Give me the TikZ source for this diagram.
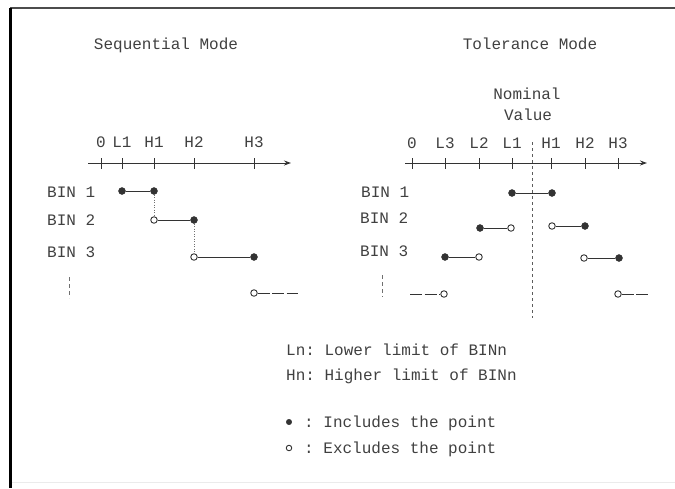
\documentclass[tikz,border=0pt]{standalone}
\usepackage{fontspec}
\setmonofont{Liberation Mono}
\usetikzlibrary{arrows.meta}
\definecolor{ink}{HTML}{333333}
\definecolor{txt}{HTML}{404040}
\begin{document}
\begin{tikzpicture}[x=1pt,y=-1pt,
  lbl/.style={font=\ttfamily\fontsize{16}{16}\selectfont, text=txt, inner sep=0pt, anchor=base},
  lblw/.style={lbl, anchor=base west},
  incl/.style={circle, fill=ink, draw=ink, inner sep=0pt, minimum size=7pt},
  excl/.style={circle, fill=white, draw=ink, line width=0.9pt, inner sep=0pt, minimum size=6.5pt},
  seg/.style={draw=ink, line width=1pt},
  tail/.style={draw=ink, line width=1pt, dash pattern=on 12pt off 2.5pt},
  axisline/.style={draw=ink, line width=1pt},
  dotline/.style={draw=ink!70, line width=0.8pt, dash pattern=on 1pt off 1.5pt},
  nomline/.style={draw=ink!80, line width=0.8pt, dash pattern=on 3pt off 3pt},
  vdots/.style={draw=ink!70, line width=0.8pt, dash pattern=on 4pt off 3pt}]
\useasboundingbox (0,0) rectangle (675,488);
% frame
\draw[black!8, line width=1pt] (10,482) -- (675,482);
\draw[black!70, line width=1.5pt] (10,8) -- (675,8);
\draw[black, line width=2.2pt] (10.5,7.5) -- (10.5,488);

% ---------------- Sequential mode ----------------
\node[lbl] (seqtitle) at (166,49) {Sequential Mode};
\coordinate (sax0) at (88,163);
\coordinate (sax1) at (291,163);
\draw[axisline, -{Stealth[length=7pt,width=5pt]}] (sax0) -- (sax1);
\foreach \x/\t in {101/0,122/L1,154/H1,194/H2,254/H3}{
  \draw[axisline] (\x,158) -- (\x,169);
  \node[lbl] (sl\t) at (\x,147) {\t};
}
\node[lblw] (sb1) at (47,197) {BIN 1};
\node[lblw] (sb2) at (47,225) {BIN 2};
\node[lblw] (sb3) at (47,257) {BIN 3};
\draw[vdots] (69,277) -- (69,298);

\node[incl] (s1a) at (122,191) {};
\node[incl] (s1b) at (154,191) {};
\node[excl] (s2a) at (154,220) {};
\node[incl] (s2b) at (194,220) {};
\node[excl] (s3a) at (194,257) {};
\node[incl] (s3b) at (254,257) {};
\node[excl] (s4a) at (254,293) {};
\coordinate (s4b) at (298,293);
\draw[seg] (s1a) -- (s1b);
\draw[seg] (s2a) -- (s2b);
\draw[seg] (s3a) -- (s3b);
\draw[tail] (s4a) -- (s4b);
\draw[dotline] (s1b) -- (s2a);
\draw[dotline] (s2b) -- (s3a);

% ---------------- Tolerance mode ----------------
\node[lbl] (toltitle) at (530,49) {Tolerance Mode};
\node[lbl] (nom) at (527,99) {Nominal};
\node[lbl] (val) at (528,120) {Value};
\coordinate (tax0) at (405,163);
\coordinate (tax1) at (647,163);
\draw[axisline, -{Stealth[length=7pt,width=5pt]}] (tax0) -- (tax1);
\foreach \x/\t in {412/0,445/L3,479/L2,512/L1,551/H1,585/H2,618/H3}{
  \draw[axisline] (\x,158) -- (\x,169);
  \node[lbl] (tl\t) at (\x,148) {\t};
}
\coordinate (nomtop) at (532,142);
\coordinate (nombot) at (532,318);
\draw[nomline] (nomtop) -- (nombot);

\node[lblw] (tb1) at (361,197) {BIN 1};
\node[lblw] (tb2) at (360,223) {BIN 2};
\node[lblw] (tb3) at (360,256) {BIN 3};
\draw[vdots] (382,275) -- (382,297);

\node[incl] (t1a) at (512,193) {};
\node[incl] (t1b) at (552,193) {};
\node[incl] (t2a) at (480,228) {};
\node[excl] (t2b) at (511,228) {};
\node[excl] (t2c) at (552,226) {};
\node[incl] (t2d) at (585,226) {};
\node[incl] (t3a) at (445,257) {};
\node[excl] (t3b) at (479,257) {};
\node[excl] (t3c) at (584,258) {};
\node[incl] (t3d) at (619,258) {};
\coordinate (t4a) at (410,294);
\node[excl] (t4b) at (444,294) {};
\node[excl] (t4c) at (618,294) {};
\coordinate (t4d) at (649,294);
\draw[seg] (t1a) -- (t1b);
\draw[seg] (t2a) -- (t2b);
\draw[seg] (t2c) -- (t2d);
\draw[seg] (t3a) -- (t3b);
\draw[seg] (t3c) -- (t3d);
\draw[tail] (t4a) -- (t4b);
\draw[tail] (t4c) -- (t4d);

% ---------------- Legend ----------------
\node[lblw] (lgL) at (286,355) {Ln: Lower limit of BINn};
\node[lblw] (lgH) at (286,380) {Hn: Higher limit of BINn};
\node[incl, minimum size=5.5pt] (lgdot) at (289,422) {};
\node[lblw] (lgI) at (304,427) {: Includes the point};
\node[excl, minimum size=5.5pt] (lgcirc) at (289,448) {};
\node[lblw] (lgE) at (304,453) {: Excludes the point};
\end{tikzpicture}
\end{document}
